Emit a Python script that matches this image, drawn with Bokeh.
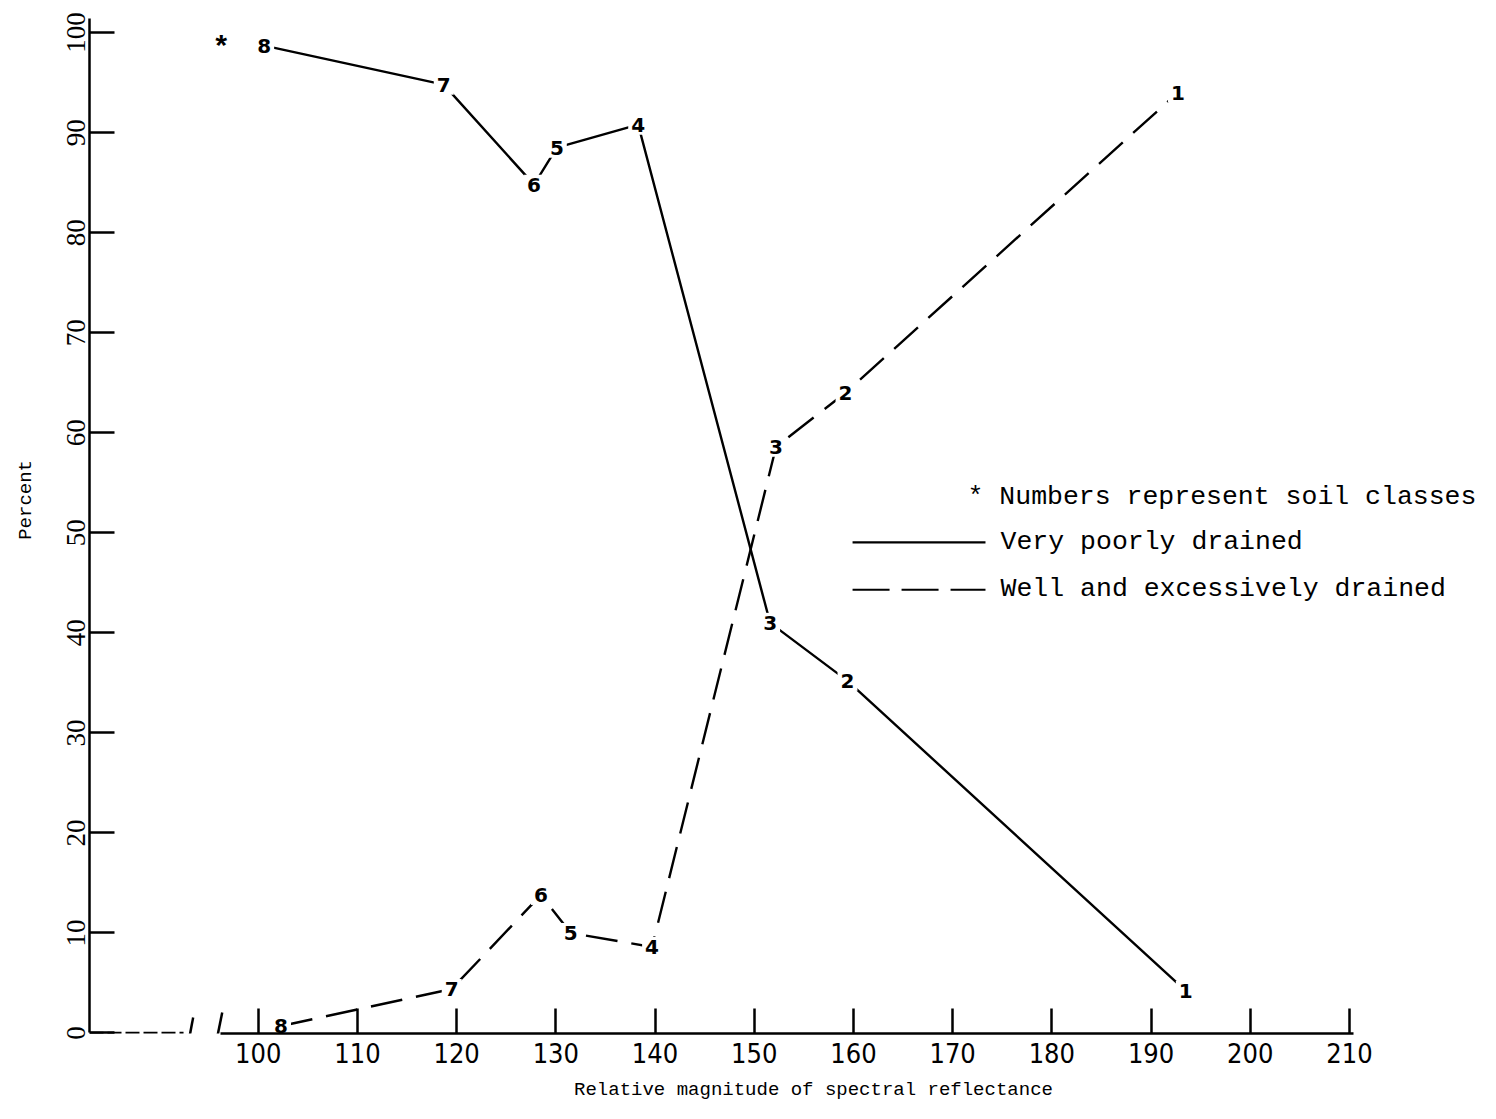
from bokeh.plotting import figure
from bokeh.models import FixedTicker, Range1d, ColumnDataSource
from bokeh.core.properties import value
from bokeh.embed import file_html
from bokeh.resources import INLINE

# ---------------- data ----------------
soil_classes = ["8", "7", "6", "5", "4", "3", "2", "1"]
poor_x = [100.6, 118.7, 127.8, 130.1, 138.3, 151.6, 159.4, 193.5]
poor_y = [98.7, 94.8, 84.8, 88.5, 90.8, 41.0, 35.2, 4.2]
well_x = [102.3, 119.5, 128.5, 131.5, 139.7, 152.2, 159.2, 192.7]
well_y = [0.7, 4.4, 13.8, 10.0, 8.6, 58.6, 64.0, 94.0]
x_ticks = [100, 110, 120, 130, 140, 150, 160, 170, 180, 190, 200, 210]
y_ticks = [0, 10, 20, 30, 40, 50, 60, 70, 80, 90, 100]
legend_note = "* Numbers represent soil classes"
series_names = ["Very poorly drained", "Well and excessively drained"]
x_title = "Relative magnitude of spectral reflectance"
y_title = "Percent"

MONO = "Liberation Mono"
NB = "\u00a0"

p = figure(width=1480, height=1103, title=None,
           x_range=Range1d(82.99, 223.21), y_range=Range1d(-0.05, 103.21),
           output_backend="svg", toolbar_location=None,
           min_border_left=89, min_border_right=0, min_border_top=0, min_border_bottom=67)
p.outline_line_color = None
p.grid.visible = False
p.background_fill_color = "white"
p.border_fill_color = "white"

# x axis
xa = p.xaxis[0]
xa.ticker = FixedTicker(ticks=x_ticks)
xa.bounds = (96.2, 210.4)
xa.major_tick_in = 25
xa.major_tick_out = 0
xa.minor_tick_in = 0
xa.minor_tick_out = 0
xa.major_tick_line_width = 2.5
xa.major_tick_line_color = "black"
xa.axis_line_width = 2.5
xa.axis_line_color = "black"
xa.major_label_text_font = "Liberation Sans Narrow, DejaVu Sans Condensed, Liberation Sans"
xa.major_label_text_font_size = "27px"
xa.major_label_text_color = "black"
xa.major_label_standoff = 9
xa.axis_label = NB * 5 + x_title
xa.axis_label_standoff = 13
xa.axis_label_text_font = MONO
xa.axis_label_text_font_size = "19px"
xa.axis_label_text_font_style = "normal"
xa.axis_label_text_color = "black"

# y axis
ya = p.yaxis[0]
ya.ticker = FixedTicker(ticks=y_ticks)
ya.bounds = (0, 101.4)
ya.major_tick_in = 25
ya.major_tick_out = 0
ya.minor_tick_in = 0
ya.minor_tick_out = 0
ya.major_tick_line_width = 2.5
ya.major_tick_line_color = "black"
ya.axis_line_width = 2.5
ya.axis_line_color = "black"
ya.major_label_orientation = "vertical"
ya.major_label_text_font = "Liberation Serif"
ya.major_label_text_font_size = "27px"
ya.major_label_text_color = "black"
ya.major_label_standoff = 4
ya.axis_label = NB * 3 + y_title
ya.axis_label_standoff = 28
ya.axis_label_text_font = MONO
ya.axis_label_text_font_size = "19px"
ya.axis_label_text_font_style = "normal"
ya.axis_label_text_color = "black"

# broken start of the x axis
p.line([82.99, 92.47], [0, 0], line_color="black", line_width=2.5, line_dash="14 4")
p.line([93.0, 93.44], [-0.74, 1.55], line_color="black", line_width=2.5)
p.line([95.86, 96.37], [-0.45, 2.05], line_color="black", line_width=2.5)

# series lines
p.line(poor_x, poor_y, line_color="black", line_width=2.4)
p.line(well_x, well_y, line_color="black", line_width=2.4, line_dash="32 14")

# class labels at the vertices
src_p = ColumnDataSource(dict(x=poor_x, y=poor_y, t=soil_classes))
src_w = ColumnDataSource(dict(x=well_x, y=well_y, t=soil_classes))
for src in (src_p, src_w):
    p.text(x="x", y="y", text="t", source=src, text_font=value("DejaVu Sans"),
           text_font_size="20px", text_font_style="bold", text_align="center",
           text_baseline="middle", text_color="black",
           background_fill_color="white", padding=3)

# asterisk near top class
p.text(x=[96.27], y=[98.4], text=["*"], text_font=value(MONO), text_font_size="30px",
       text_font_style="bold", text_align="center", text_baseline="middle", text_color="black")

# legend
p.text(x=[171.5], y=[53.57], text=[legend_note], text_font=value(MONO),
       text_font_size="26.5px", text_align="left", text_baseline="middle", text_color="black")
p.line([159.91, 173.31], [49.04, 49.04], line_color="black", line_width=2.2)
p.line([159.91, 173.31], [44.31, 44.31], line_color="black", line_width=2.2, line_dash="37 12")
p.text(x=[174.83, 174.83], y=[49.09, 44.41], text=series_names, text_font=value(MONO),
       text_font_size="26.5px", text_align="left", text_baseline="middle", text_color="black")

open("out.html", "w").write(file_html(p, INLINE))
